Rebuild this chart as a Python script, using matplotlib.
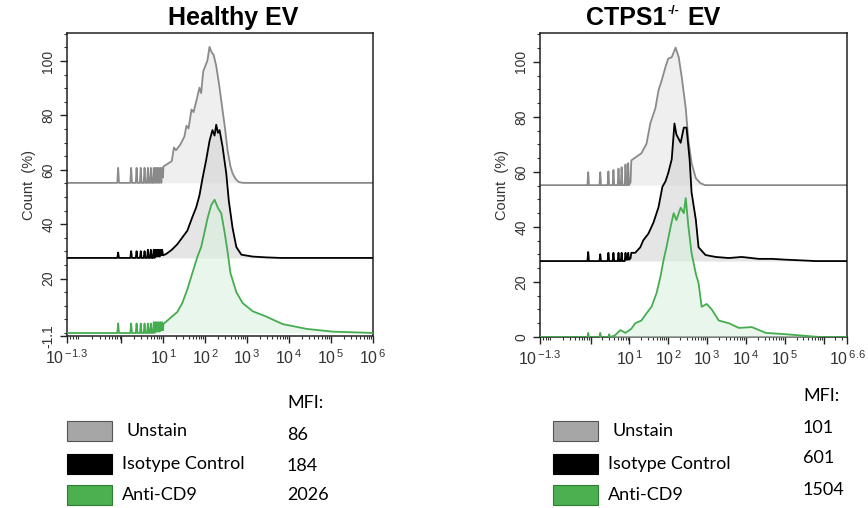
import numpy as np
import matplotlib
matplotlib.use("Agg")
import matplotlib.pyplot as plt
from matplotlib.patches import Rectangle
from matplotlib.ticker import FixedLocator, MultipleLocator

plt.rcParams['font.family'] = ['Liberation Sans', 'DejaVu Sans']

W, H = 868, 508

# ---- data: log10(intensity) and height above each curve's baseline (%) ----
# Healthy EV
h_unstain_x = [-1.3, -0.1, -0.08, -0.06, 0.21, 0.23, 0.25, 0.34, 0.36, 0.38,
               0.44, 0.46, 0.48, 0.53, 0.55, 0.57, 0.61, 0.63, 0.65, 0.68,
               0.70, 0.72, 0.75, 0.77, 0.79, 0.81, 0.83, 0.85, 0.87, 0.89,
               0.91, 0.93, 0.95, 0.97, 0.99, 1.0, 1.1, 1.2, 1.25, 1.3,
               1.4, 1.5, 1.55, 1.6, 1.67, 1.72, 1.8, 1.86, 1.9, 1.95,
               2.0, 2.05, 2.1, 2.15, 2.2, 2.26, 2.33, 2.4, 2.47, 2.53,
               2.6, 2.65, 2.72, 2.8, 2.9, 6.0]
h_unstain_y = [0, 0, 5.5, 0, 0, 5.5, 0, 0, 5.5, 0,
               0, 5.5, 0, 0, 5.5, 0, 0, 5.5, 0, 0,
               5.5, 0, 0, 5.5, 0, 5.5, 0, 5.5, 0, 5.5,
               0, 5.5, 0, 5.5, 2, 6, 7, 8, 13, 12,
               14, 17, 21, 20, 27, 26, 31, 35, 33, 41,
               43, 45, 50, 48, 47, 43, 36, 28, 20, 12,
               6, 3.5, 1.5, 0.3, 0, 0]

h_iso_x = [-1.3, -0.1, -0.08, -0.06, 0.21, 0.23, 0.25, 0.34, 0.36, 0.38,
           0.44, 0.46, 0.48, 0.53, 0.55, 0.57, 0.61, 0.63, 0.65, 0.68,
           0.70, 0.72, 0.75, 0.77, 0.79, 0.81, 0.83, 0.85, 0.87, 0.89,
           0.91, 0.93, 0.95, 0.97, 0.99, 1.0, 1.07, 1.2, 1.33, 1.45,
           1.57, 1.69, 1.78, 1.86, 1.93, 2.02, 2.1, 2.17, 2.22, 2.26,
           2.3, 2.34, 2.41, 2.5, 2.56, 2.65, 2.74, 2.86, 3.13, 3.46,
           3.8, 6.0]
h_iso_y = [0, 0, 2, 0, 0, 2.5, 0, 0, 2.5, 0,
           0, 2.5, 0, 0, 2.5, 0, 0, 3, 0, 0,
           3, 0, 0, 3, 0, 3, 0.5, 3, 0.5, 3,
           0.5, 3, 1, 3, 1, 1, 1.5, 3, 5, 7.5,
           10, 15, 18.5, 23, 29, 36, 43, 47, 45, 49,
           46, 47, 41, 31, 21, 11, 4, 1.2, 0.5, 0.2,
           0, 0]

h_cd9_x = [-1.3, -0.1, -0.08, -0.06, 0.21, 0.23, 0.25, 0.34, 0.36, 0.38,
           0.44, 0.46, 0.48, 0.53, 0.55, 0.57, 0.61, 0.63, 0.65, 0.68,
           0.70, 0.72, 0.75, 0.77, 0.79, 0.81, 0.83, 0.85, 0.87, 0.89,
           0.91, 0.93, 0.95, 0.97, 0.99, 1.0, 1.2, 1.33, 1.45, 1.57,
           1.69, 1.81, 1.9, 1.98, 2.05, 2.14, 2.22, 2.3, 2.38, 2.46,
           2.53, 2.6, 2.74, 2.89, 3.13, 3.46, 3.84, 4.42, 5.04, 5.85,
           6.0]
h_cd9_y = [0, 0, 3.5, 0, 0, 3.5, 0, 0, 3.5, 0,
           0, 3.5, 0, 0, 3.5, 0, 0, 3.5, 0, 0,
           3.5, 0, 0, 4, 0, 4, 0.5, 4, 0.5, 4,
           0.5, 4, 1, 4, 1, 3.3, 6, 7.7, 11, 16,
           22, 28, 31.6, 37, 42, 47, 49, 46, 44, 37,
           30, 22, 15, 11, 8, 6, 3.3, 1.5, 0.5, 0.1,
           0]

# CTPS1-/- EV
c_unstain_x = [-1.3, -0.08, -0.06, -0.04, 0.23, 0.25, 0.27, 0.44, 0.46, 0.48,
               0.57, 0.59, 0.61, 0.70, 0.72, 0.74, 0.78, 0.80, 0.82, 0.88,
               0.90, 0.92, 0.95, 0.97, 0.99, 1.03, 1.05, 1.15, 1.31, 1.44,
               1.54, 1.67, 1.75, 1.83, 1.93, 2.0, 2.09, 2.19, 2.27, 2.35,
               2.45, 2.52, 2.6, 2.71, 2.83, 2.95, 6.6]
c_unstain_y = [0, 0, 4.7, 0, 0, 4.7, 0, 0, 5, 0,
               0, 5.5, 0, 0, 6, 0, 0, 6.5, 0, 0,
               7.5, 0, 0, 8, 0, 1, 9, 10, 11.6, 15,
               22.5, 28, 34.5, 38, 43, 46, 46.5, 50, 46.5, 39,
               28, 16, 8, 2.5, 0.7, 0, 0]

c_iso_x = [-1.3, -0.08, -0.06, -0.04, 0.23, 0.25, 0.27, 0.44, 0.46, 0.48,
           0.57, 0.59, 0.61, 0.70, 0.72, 0.74, 0.78, 0.80, 0.82, 0.88,
           0.90, 0.92, 0.95, 0.97, 0.99, 1.03, 1.05, 1.15, 1.28, 1.36,
           1.49, 1.62, 1.75, 1.85, 1.93, 2.0, 2.09, 2.16, 2.21, 2.32,
           2.4, 2.47, 2.55, 2.6, 2.71, 2.78, 2.96, 3.22, 3.56, 3.89,
           4.33, 4.67, 5.03, 5.5, 5.8, 6.6]
c_iso_y = [0, 0, 3.3, 0, 0, 2.5, 0, 0, 3, 0,
           0, 3, 0, 0, 3, 0, 0, 3, 0, 0,
           3, 0.5, 0.5, 3, 0.5, 1, 3, 3, 5, 7.6,
           10, 14, 19.6, 27, 29, 32, 37, 50, 46, 43,
           48.5, 48.5, 37, 25, 15, 5, 2.2, 1.5, 1.1, 1.5,
           0.8, 0.8, 0.5, 0.2, 0, 0]

c_cd9_x = [-1.3, -0.08, -0.06, -0.04, 0.23, 0.25, 0.27, 0.46, 0.48, 0.50,
           0.62, 0.77, 0.9, 1.05, 1.15, 1.31, 1.44, 1.57, 1.7, 1.8,
           1.88, 1.96, 2.06, 2.14, 2.21, 2.32, 2.4, 2.45, 2.52, 2.6,
           2.71, 2.78, 2.86, 2.99, 3.12, 3.3, 3.56, 3.82, 4.15, 4.51,
           5.03, 5.63, 5.9, 6.6]
c_cd9_y = [0, 0, 1.5, 0, 0, 1.5, 0, 0, 1, 0,
           0.5, 2.5, 1.5, 3, 5, 6, 8.6, 11, 16, 22,
           28, 33, 40, 45, 42.5, 47, 45, 50.5, 40, 30.5,
           23, 19.6, 11, 12, 10, 6, 5, 3.3, 3.6, 1.5,
           1, 0.3, 0, 0]

baselines = [55.2, 27.6, 0.0]
series_names = ['Unstain', 'Isotype Control', 'Anti-CD9']
mfi_healthy = ['86', '184', '2026']
mfi_ctps1 = ['101', '601', '1504']

line_colors = ['#8a8a8a', '#000000', '#45ad50']
fill_colors = ['#efefef', '#d4d4d4', '#d8f0dd']
fill_alpha = [1.0, 0.6, 0.55]
patch_colors = ['#a6a6a6', '#000000', '#4caf50']
patch_edges = ['#555555', '#000000', '#2e7d32']


def fig_rect(x0, y0, x1, y1):
    # pixel box (top-left origin) -> figure fraction rect
    return [x0 / W, 1 - y1 / H, (x1 - x0) / W, (y1 - y0) / H]


def exp_label(e):
    e = str(e).replace('-', '{-}')
    return r'$\mathregular{10^{\,%s}}$' % e


def draw_panel(ax, curves, xmax, ylim, yticks, ytick_labels, xticks, xtick_labels):
    for i, (xs, ys) in enumerate(curves):
        xv = 10.0 ** np.array(xs)
        yv = np.array(ys) + baselines[i]
        ax.fill_between(xv, baselines[i], yv, color=fill_colors[i],
                        alpha=fill_alpha[i], lw=0, zorder=1 + 2 * i)
        ax.plot(xv, yv, color=line_colors[i], lw=1.3, zorder=2 + 2 * i)
    ax.set_xscale('log')
    ax.set_xlim(10 ** -1.3, 10 ** xmax)
    ax.set_ylim(*ylim)
    ax.xaxis.set_major_locator(FixedLocator([10.0 ** v for v in xticks]))
    ax.set_xticklabels(xtick_labels)
    subs = [10.0 ** d * k for d in range(-2, 7) for k in range(2, 10)]
    ax.xaxis.set_minor_locator(FixedLocator(subs))
    ax.yaxis.set_major_locator(FixedLocator(yticks))
    ax.set_yticklabels(ytick_labels, rotation=90, va='center')
    ax.yaxis.set_minor_locator(MultipleLocator(5))
    ax.tick_params(axis='both', which='major', length=5, width=1.0,
                   colors='#222222', labelcolor='#333333')
    ax.tick_params(axis='both', which='minor', length=2.5, width=0.8, colors='#333333')
    ax.tick_params(axis='y', labelsize=10)
    ax.tick_params(axis='x', labelsize=11.5, pad=4)
    for s in ax.spines.values():
        s.set_linewidth(1.1)
        s.set_color('#222222')
    ax.set_ylabel('Count  (%)', fontsize=10.5, color='#333333', labelpad=4)


fig = plt.figure(figsize=(W / 100, H / 100), dpi=100)

ax1 = fig.add_axes(fig_rect(67, 33, 373, 336))
draw_panel(ax1,
           [(h_unstain_x, h_unstain_y), (h_iso_x, h_iso_y), (h_cd9_x, h_cd9_y)],
           6.0, (-1.1, 110.3),
           [-1.1, 20, 40, 60, 80, 100], ['-1.1', '20', '40', '60', '80', '100'],
           [-1.3, 0, 1, 2, 3, 4, 5, 6],
           [exp_label('-1.3'), '', exp_label(1), exp_label(2), exp_label(3),
            exp_label(4), exp_label(5), exp_label(6)])

ax2 = fig.add_axes(fig_rect(540, 33, 847, 337))
draw_panel(ax2,
           [(c_unstain_x, c_unstain_y), (c_iso_x, c_iso_y), (c_cd9_x, c_cd9_y)],
           6.6, (0, 110.5),
           [0, 20, 40, 60, 80, 100], ['0', '20', '40', '60', '80', '100'],
           [-1.3, 0, 1, 2, 3, 4, 5, 6, 6.6],
           [exp_label('-1.3'), '', exp_label(1), exp_label(2), exp_label(3),
            exp_label(4), exp_label(5), '', exp_label('6.6')])

title_font = ['Liberation Sans Narrow', 'Liberation Sans']
fig.text(233 / W, 1 - 18 / H, 'Healthy EV', ha='center', va='center',
         fontsize=18, fontweight='bold', family=title_font)
fig.text(586 / W, 1 - 18 / H, 'CTPS1', ha='left', va='center',
         fontsize=18, fontweight='bold', family=title_font)
fig.text(668 / W, 1 - 11 / H, '-/-', ha='left', va='center',
         fontsize=9, fontweight='bold', family=title_font)
fig.text(687 / W, 1 - 18 / H, 'EV', ha='left', va='center',
         fontsize=18, fontweight='bold', family=title_font)

# legends with MFI values
leg_font = ['Lato', 'DejaVu Sans']
for px0, mfi_x, rows_y, mfi_y, mfi_vals in [
        (67, 287, [431, 464, 495], [403, 435, 466, 495], mfi_healthy),
        (553, 803, [431, 464, 495], [396, 428, 458, 490], mfi_ctps1)]:
    for i, name in enumerate(series_names):
        cy = rows_y[i]
        fig.add_artist(Rectangle((px0 / W, 1 - (cy + 10) / H), 45 / W, 20 / H,
                                 transform=fig.transFigure, facecolor=patch_colors[i],
                                 edgecolor=patch_edges[i], lw=0.8))
        tx = px0 + (60 if i == 0 else 55)
        fig.text(tx / W, 1 - cy / H, name, ha='left', va='center',
                 fontsize=13, family=leg_font)
    fig.text(mfi_x / W, 1 - mfi_y[0] / H, 'MFI:', ha='left', va='center',
             fontsize=13, family=leg_font)
    for i, v in enumerate(mfi_vals):
        fig.text(mfi_x / W, 1 - mfi_y[i + 1] / H, v, ha='left', va='center',
                 fontsize=13, family=leg_font)

fig.savefig('out.png', dpi=100)
